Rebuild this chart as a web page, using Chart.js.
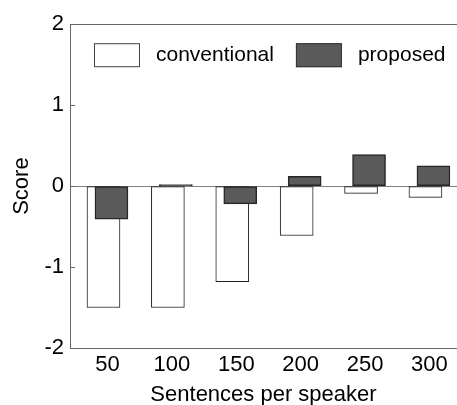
<!DOCTYPE html>
<html><head><meta charset="utf-8">
<script src="https://cdn.jsdelivr.net/npm/chart.js@4"></script>
<style>html,body{margin:0;padding:0;background:#fff;overflow:hidden}canvas{display:block}</style>
</head><body>
<canvas id="c" width="457" height="405"></canvas>
<script>
const categories = [50, 100, 150, 200, 250, 300];
const conventional = [-1.50, -1.50, -1.18, -0.61, -0.09, -0.14];
const proposed = [-0.41, 0.02, -0.22, 0.12, 0.39, 0.25];
const yTicks = [-2, -1, 0, 1, 2];
const seriesNames = ['conventional', 'proposed'];
const xTitle = 'Sentences per speaker';
const yTitle = 'Score';

const FONT = '"Liberation Sans", Arial, Helvetica, sans-serif';
const SHIFT = 3.1; // offset of overlapping bars from the category, x units

const framePlugin = {
  id: 'frame',
  afterDraw(chart) {
    const {ctx, chartArea: a} = chart;
    ctx.save();
    ctx.strokeStyle = '#666';
    ctx.lineWidth = 1;
    ctx.beginPath();
    ctx.moveTo(a.left, Math.round(a.top) + 0.5);
    ctx.lineTo(a.right, Math.round(a.top) + 0.5);
    ctx.stroke();
    // legend inside plot
    let x = a.left + 24;
    const y = a.top + 19;
    ctx.font = '21px ' + FONT;
    ctx.textBaseline = 'alphabetic';
    ctx.textAlign = 'left';
    chart.data.datasets.forEach(d => {
      ctx.fillStyle = d.backgroundColor;
      ctx.fillRect(x, y, 46, 24);
      ctx.strokeStyle = d.legendBorder;
      ctx.lineWidth = 1;
      ctx.strokeRect(x + 0.5, y + 0.5, 45, 23);
      ctx.fillStyle = '#000';
      ctx.fillText(d.label, x + 62, y + 18);
      x += 62 + ctx.measureText(d.label).width + 22;
    });
    ctx.restore();
  }
};

new Chart(document.getElementById('c'), {
  type: 'bar',
  data: {
    datasets: [
      {
        label: seriesNames[0],
        data: categories.map((c, i) => ({x: c - SHIFT, y: conventional[i]})),
        backgroundColor: '#ffffff', borderColor: '#1e1e1e', legendBorder: '#444',
        borderWidth: 1, borderSkipped: false, barThickness: 33, grouped: false, order: 1
      },
      {
        label: seriesNames[1],
        data: categories.map((c, i) => ({x: c + SHIFT, y: proposed[i]})),
        backgroundColor: '#5a5a5a', borderColor: '#262626', legendBorder: '#333',
        borderWidth: 1.5, borderSkipped: false, barThickness: 33, grouped: false, order: 0
      }
    ]
  },
  options: {
    responsive: false,
    animation: false,
    layout: {padding: {top: 20, right: 0, bottom: 0, left: 0}},
    plugins: {legend: {display: false}, tooltip: {enabled: false}},
    scales: {
      x: {
        type: 'linear', min: 20.9, max: 321.4, offset: false,
        afterBuildTicks: s => { s.ticks = categories.map(v => ({value: v})); },
        afterFit: s => { s.height = 57; },
        grid: {display: false, drawTicks: false},
        border: {display: true, color: '#666', width: 1},
        ticks: {color: '#000', font: {family: FONT, size: 22}, padding: 4, maxRotation: 0, autoSkip: false},
        title: {display: true, text: xTitle, color: '#000', font: {family: FONT, size: 22}, padding: {top: 0, bottom: -3}}
      },
      y: {
        min: -2, max: 2,
        afterBuildTicks: s => { s.ticks = yTicks.map(v => ({value: v})); },
        afterFit: s => { s.width = 70; },
        grid: {
          color: c => (c.tick && c.tick.value === 0) ? '#808080' : 'rgba(0,0,0,0)',
          tickColor: '#666', tickLength: -5, drawTicks: true, lineWidth: 1
        },
        border: {display: true, color: '#666', width: 1},
        ticks: {color: '#000', font: {family: FONT, size: 22}, padding: 11},
        title: {display: true, text: yTitle, color: '#000', font: {family: FONT, size: 22}, padding: {top: 9, bottom: 0}}
      }
    }
  },
  plugins: [framePlugin]
});
</script>
</body></html>
